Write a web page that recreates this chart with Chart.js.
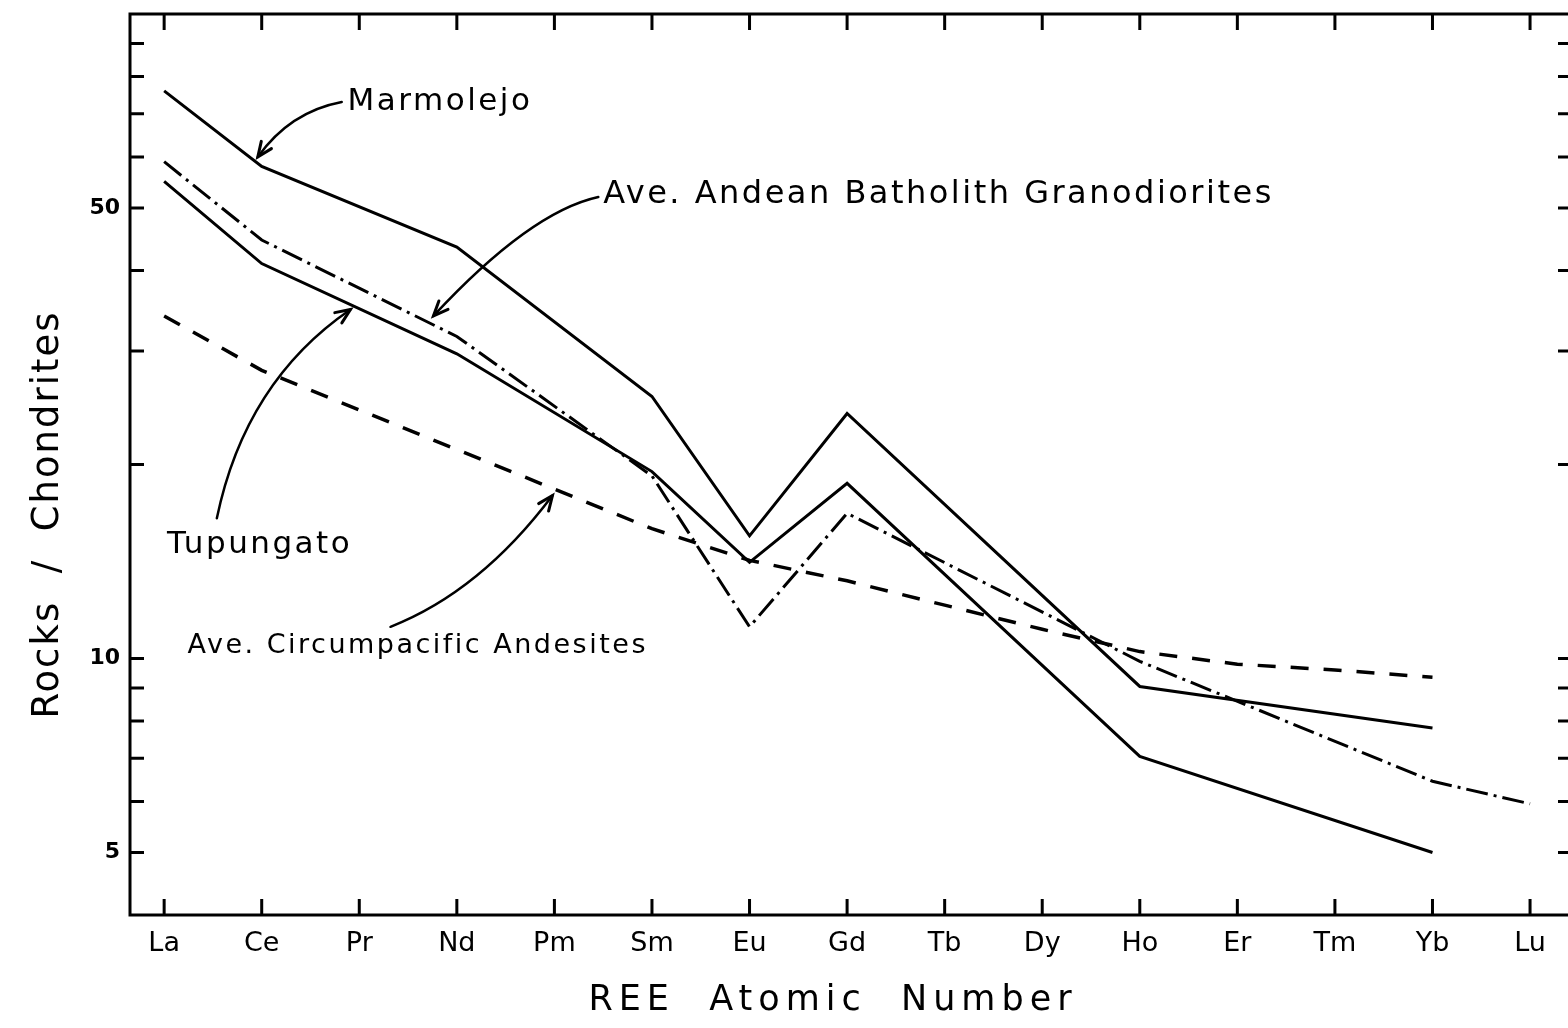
<!DOCTYPE html>
<html>
<head>
<meta charset="utf-8">
<title>REE Patterns</title>
<script src="https://cdn.jsdelivr.net/npm/chart.js@4.4.1/dist/chart.umd.min.js"></script>
<style>
  html, body { margin: 0; padding: 0; background: #fff; overflow: hidden; }
  #wrap { width: 1600px; height: 1028px; }
</style>
</head>
<body>
<div id="wrap"><canvas id="reeChart" width="1600" height="1028"></canvas></div>
<script>
// Rare earth elements in order of atomic number
var elements = ['La', 'Ce', 'Pr', 'Nd', 'Pm', 'Sm', 'Eu', 'Gd', 'Tb', 'Dy', 'Ho', 'Er', 'Tm', 'Yb', 'Lu'];

// Rock / chondrite ratios (null = not analysed)
var marmolejo     = [76, 58, null, 43.5, null, 25.5, 15.5, 24, null, null, 9.05, null, null, 7.8, null];
var tupungato     = [55, 41, null, 29.7, null, 19.5, 14.1, 18.7, null, null, 7.05, null, null, 5.0, null];
var andeanGrano   = [59, 44.6, null, 31.6, null, 19.2, 11.2, 16.8, null, null, 9.9, null, null, 6.45, 5.95];
var circumAndes   = [34, 28, null, 21.1, null, 15.9, 14.2, 13.2, 12.1, 11.1, 10.25, 9.8, 9.6, 9.35, null];

// Log axis ticks, only some of them labelled
var yTicks  = [5, 6, 7, 8, 9, 10, 20, 30, 40, 50, 60, 70, 80, 90];
var yLabels = [5, 10, 50];

var font = '"DejaVu Sans", sans-serif';

// Element index -> point
var toPoints = (values) => values.map((v, i) => ({ x: i, y: v }));

// Hand lettered labels with curved arrows, placed in data space [element index, ratio]
var notes = [
    { text: 'Marmolejo', at: [1.88, 73], from: [1.82, 73], ctrl: [1.29, 70.5], to: [0.96, 60], size: 31 },
    { text: 'Ave. Andean Batholith Granodiorites', at: [4.5, 52.4], from: [4.45, 52], ctrl: [3.75, 49.3], to: [2.76, 34], size: 32 },
    { text: 'Tupungato', at: [0.03, 15], from: [0.54, 16.5], ctrl: [0.83, 26.9], to: [1.91, 34.8], size: 31 },
    { text: 'Ave. Circumpacific Andesites', at: [0.24, 10.44], from: [2.32, 11.2], ctrl: [3.24, 12.7], to: [3.98, 17.9], size: 27 }
];

// Frame, inward tick marks and axis titles
var framePlugin = {
    id: 'frame',
    afterDraw(chart) {
        var ctx = chart.ctx, a = chart.chartArea, x = chart.scales.x, y = chart.scales.y;
        ctx.save();
        ctx.strokeStyle = '#000';
        ctx.lineWidth = 3;
        ctx.strokeRect(a.left, a.top, a.right - a.left, a.bottom - a.top);

        ctx.beginPath();
        x.ticks.forEach(t => {
            var px = x.getPixelForValue(t.value);
            ctx.moveTo(px, a.top); ctx.lineTo(px, a.top + 16);
            ctx.moveTo(px, a.bottom); ctx.lineTo(px, a.bottom - 16);
        });
        y.ticks.forEach(t => {
            var py = y.getPixelForValue(t.value);
            ctx.moveTo(a.left, py); ctx.lineTo(a.left + 14, py);
            ctx.moveTo(a.right, py); ctx.lineTo(a.right - 14, py);
        });
        ctx.stroke();

        // Axis titles
        ctx.fillStyle = '#000';
        ctx.textAlign = 'center';
        ctx.textBaseline = 'middle';
        ctx.font = '37px ' + font;
        ctx.letterSpacing = '2px';
        ctx.translate(a.left - 82, (a.top + a.bottom) / 2 + 50);
        ctx.rotate(-Math.PI / 2);
        ctx.fillText('Rocks  /  Chondrites', 0, 0);
        ctx.restore();

        ctx.save();
        ctx.fillStyle = '#000';
        ctx.textAlign = 'center';
        ctx.textBaseline = 'middle';
        ctx.font = '35px ' + font;
        ctx.letterSpacing = '6px';
        ctx.fillText('REE  Atomic  Number', (a.left + a.right) / 2 - 18, a.bottom + 86);
        ctx.restore();
    }
};

// Series labels and their arrows
var notesPlugin = {
    id: 'notes',
    afterDatasetsDraw(chart) {
        var ctx = chart.ctx, x = chart.scales.x, y = chart.scales.y;
        var px = (p) => [x.getPixelForValue(p[0]), y.getPixelForValue(p[1])];
        ctx.save();
        ctx.strokeStyle = '#000';
        ctx.fillStyle = '#000';
        ctx.lineWidth = 2.5;
        ctx.lineCap = 'round';
        notes.forEach(n => {
            var f = px(n.from), c = px(n.ctrl), t = px(n.to), p = px(n.at);
            ctx.beginPath();
            ctx.moveTo(f[0], f[1]);
            ctx.quadraticCurveTo(c[0], c[1], t[0], t[1]);
            ctx.stroke();

            // arrow head
            var ang = Math.atan2(t[1] - c[1], t[0] - c[0]);
            ctx.lineWidth = 3;
            ctx.beginPath();
            ctx.moveTo(t[0] - 16 * Math.cos(ang - 0.4), t[1] - 16 * Math.sin(ang - 0.4));
            ctx.lineTo(t[0], t[1]);
            ctx.lineTo(t[0] - 16 * Math.cos(ang + 0.4), t[1] - 16 * Math.sin(ang + 0.4));
            ctx.stroke();
            ctx.lineWidth = 2.5;

            ctx.font = n.size + 'px ' + font;
            ctx.textAlign = 'left';
            ctx.textBaseline = 'middle';
            ctx.letterSpacing = '2.5px';
            ctx.fillText(n.text, p[0], p[1]);
        });
        ctx.restore();
    }
};

var ctx = document.getElementById('reeChart').getContext('2d');

var chart = new Chart(ctx, {
    type: 'line',
    data: {
        datasets: [
            {
                label: 'Marmolejo',
                data: toPoints(marmolejo),
                borderColor: '#000',
                borderWidth: 3
            },
            {
                label: 'Tupungato',
                data: toPoints(tupungato),
                borderColor: '#000',
                borderWidth: 3
            },
            {
                label: 'Ave. Andean Batholith Granodiorites',
                data: toPoints(andeanGrano),
                borderColor: '#000',
                borderWidth: 3,
                borderDash: [22, 6, 3, 6]
            },
            {
                label: 'Ave. Circumpacific Andesites',
                data: toPoints(circumAndes),
                borderColor: '#000',
                borderWidth: 3.5,
                borderDash: [18, 15]
            }
        ]
    },
    options: {
        responsive: false,
        animation: false,
        spanGaps: true,
        layout: { padding: { top: 14, right: 28, left: 0, bottom: 0 } },
        elements: {
            point: { radius: 0 },
            line: { tension: 0, fill: false }
        },
        plugins: {
            legend: { display: false },
            tooltip: { enabled: false }
        },
        scales: {
            x: {
                type: 'linear',
                min: -0.35,
                max: 14.43,
                grid: { display: false, drawTicks: false },
                border: { display: false },
                afterBuildTicks: (scale) => { scale.ticks = elements.map((e, i) => ({ value: i })); },
                afterFit: (scale) => {
                    scale.height = 113;
                    scale.paddingLeft = 0;
                    scale.paddingRight = 0;
                },
                ticks: {
                    autoSkip: false,
                    maxRotation: 0,
                    padding: 13,
                    color: '#000',
                    font: { family: font, size: 27 },
                    callback: (value) => elements[value]
                }
            },
            y: {
                type: 'logarithmic',
                min: 4,
                max: 100,
                grid: { display: false, drawTicks: false },
                border: { display: false },
                afterBuildTicks: (scale) => { scale.ticks = yTicks.map(v => ({ value: v })); },
                afterFit: (scale) => {
                    scale.width = 130;
                    scale.paddingTop = 0;
                    scale.paddingBottom = 0;
                },
                ticks: {
                    padding: 10,
                    color: '#000',
                    font: { family: font, size: 22, weight: 'bold' },
                    callback: (value) => yLabels.includes(value) ? String(value) : ''
                }
            }
        }
    },
    plugins: [framePlugin, notesPlugin]
});
</script>
</body>
</html>
